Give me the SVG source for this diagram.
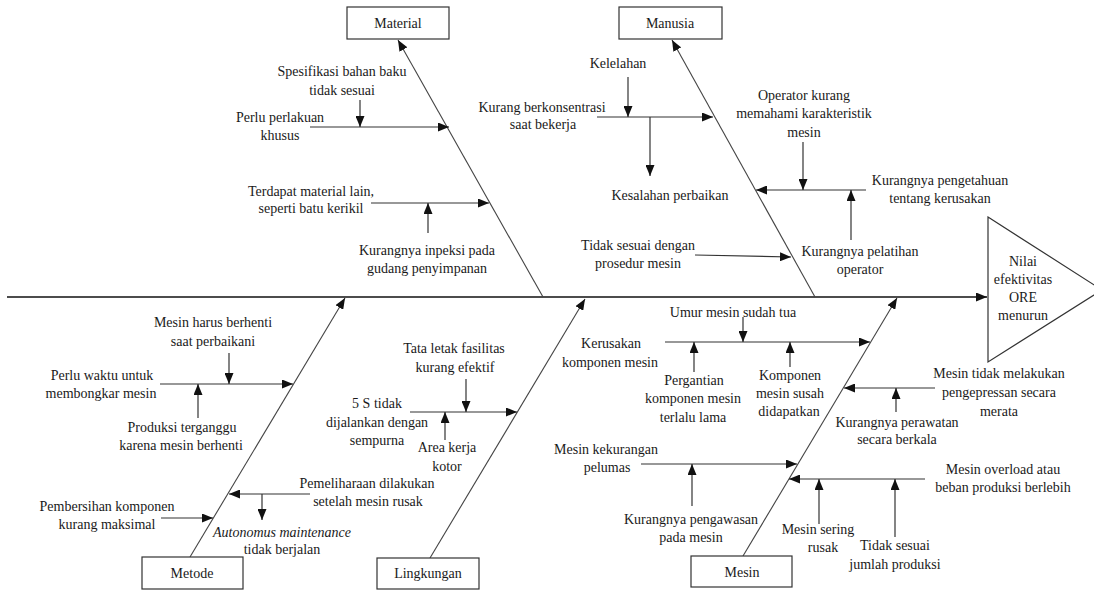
<svg xmlns="http://www.w3.org/2000/svg" width="1094" height="593" viewBox="0 0 1094 593">
<style>
text{font-family:"Liberation Serif","Times New Roman",serif;font-size:14px;fill:#1a1a1a;text-anchor:middle}
.it{font-style:italic}
.box{fill:#fff;stroke:#333;stroke-width:1.2}
.ln{stroke:#333;stroke-width:1.2;fill:none}
.bone{stroke:#444;stroke-width:1.1;fill:none}
.spine{stroke:#111;stroke-width:1.6;fill:none}
</style>
<defs>
<marker id="ah" markerUnits="userSpaceOnUse" markerWidth="12" markerHeight="9" refX="11" refY="4.5" orient="auto">
<path d="M0,0 L11,4.5 L0,9 z" fill="#111"/>
</marker>
</defs>
<rect width="1094" height="593" fill="#fff"/>

<g id="connectors">
<line class="spine" x1="7" y1="297" x2="987" y2="297" marker-end="url(#ah)"/>
<line class="bone" x1="543" y1="297" x2="398" y2="40" marker-end="url(#ah)"/>
<line class="bone" x1="815" y1="297" x2="672" y2="40" marker-end="url(#ah)"/>
<line class="bone" x1="190" y1="557" x2="345" y2="298" marker-end="url(#ah)"/>
<line class="bone" x1="430" y1="558" x2="585" y2="299" marker-end="url(#ah)"/>
<line class="bone" x1="743" y1="556" x2="897" y2="298" marker-end="url(#ah)"/>

<!-- Material -->
<line class="ln" x1="310" y1="127" x2="449" y2="127" marker-end="url(#ah)"/>
<line class="ln" x1="360" y1="100" x2="360" y2="127" marker-end="url(#ah)"/>
<line class="ln" x1="371" y1="203" x2="489" y2="203" marker-end="url(#ah)"/>
<line class="ln" x1="428" y1="233" x2="428" y2="203" marker-end="url(#ah)"/>

<!-- Manusia -->
<line class="ln" x1="597" y1="117" x2="713" y2="117" marker-end="url(#ah)"/>
<line class="ln" x1="628" y1="77" x2="628" y2="117" marker-end="url(#ah)"/>
<line class="ln" x1="650" y1="117" x2="650" y2="176" marker-end="url(#ah)"/>
<line class="ln" x1="695" y1="255" x2="791" y2="257" marker-end="url(#ah)"/>
<line class="ln" x1="866" y1="190" x2="756" y2="190" marker-end="url(#ah)"/>
<line class="ln" x1="803" y1="142" x2="803" y2="190" marker-end="url(#ah)"/>
<line class="ln" x1="851" y1="240" x2="851" y2="190" marker-end="url(#ah)"/>

<!-- Metode -->
<line class="ln" x1="160" y1="384" x2="293" y2="384" marker-end="url(#ah)"/>
<line class="ln" x1="229" y1="353" x2="229" y2="384" marker-end="url(#ah)"/>
<line class="ln" x1="198" y1="418" x2="198" y2="384" marker-end="url(#ah)"/>
<line class="ln" x1="310" y1="494" x2="229" y2="494" marker-end="url(#ah)"/>
<line class="ln" x1="262" y1="494" x2="262" y2="520" marker-end="url(#ah)"/>
<line class="ln" x1="161" y1="518" x2="213" y2="518" marker-end="url(#ah)"/>

<!-- Lingkungan -->
<line class="ln" x1="410" y1="412" x2="517" y2="412" marker-end="url(#ah)"/>
<line class="ln" x1="466" y1="379" x2="466" y2="412" marker-end="url(#ah)"/>
<line class="ln" x1="445" y1="440" x2="445" y2="412" marker-end="url(#ah)"/>

<!-- Mesin -->
<line class="ln" x1="665" y1="342" x2="870" y2="342" marker-end="url(#ah)"/>
<line class="ln" x1="743" y1="317" x2="743" y2="342" marker-end="url(#ah)"/>
<line class="ln" x1="694" y1="372" x2="694" y2="342" marker-end="url(#ah)"/>
<line class="ln" x1="790" y1="367" x2="790" y2="342" marker-end="url(#ah)"/>
<line class="ln" x1="935" y1="388" x2="844" y2="388" marker-end="url(#ah)"/>
<line class="ln" x1="896" y1="412" x2="896" y2="388" marker-end="url(#ah)"/>
<line class="ln" x1="641" y1="464" x2="797" y2="464" marker-end="url(#ah)"/>
<line class="ln" x1="692" y1="506" x2="692" y2="464" marker-end="url(#ah)"/>
<line class="ln" x1="925" y1="479" x2="789" y2="479" marker-end="url(#ah)"/>
<line class="ln" x1="819" y1="524" x2="819" y2="479" marker-end="url(#ah)"/>
<line class="ln" x1="895" y1="537" x2="895" y2="479" marker-end="url(#ah)"/>
</g>

<g id="effect">
<polygon points="988,217 1102,290 988,362" fill="#fff" stroke="#333" stroke-width="1.2"/>
<text x="1023" y="266">Nilai</text>
<text x="1023" y="284">efektivitas</text>
<text x="1023" y="302">ORE</text>
<text x="1023" y="320">menurun</text>
</g>

<g id="material">
<rect class="box" x="347" y="7" width="102" height="32"/>
<text x="398" y="28">Material</text>
<text x="342" y="76">Spesifikasi bahan baku</text>
<text x="342" y="95">tidak sesuai</text>
<text x="280" y="122">Perlu perlakuan</text>
<text x="280" y="140">khusus</text>
<text x="311" y="196">Terdapat material lain,</text>
<text x="311" y="213">seperti batu kerikil</text>
<text x="427" y="255">Kurangnya inpeksi pada</text>
<text x="427" y="273">gudang penyimpanan</text>
</g>

<g id="manusia">
<rect class="box" x="619" y="7" width="103" height="32"/>
<text x="670" y="28">Manusia</text>
<text x="618" y="68">Kelelahan</text>
<text x="542" y="112">Kurang berkonsentrasi</text>
<text x="543" y="129">saat bekerja</text>
<text x="670" y="200">Kesalahan perbaikan</text>
<text x="638" y="250">Tidak sesuai dengan</text>
<text x="638" y="268">prosedur mesin</text>
<text x="804" y="100">Operator kurang</text>
<text x="804" y="118">memahami karakteristik</text>
<text x="804" y="137">mesin</text>
<text x="940" y="185">Kurangnya pengetahuan</text>
<text x="940" y="203">tentang kerusakan</text>
<text x="860" y="256">Kurangnya pelatihan</text>
<text x="860" y="274">operator</text>
</g>

<g id="metode">
<rect class="box" x="142" y="557" width="101" height="32"/>
<text x="192" y="578">Metode</text>
<text x="213" y="327">Mesin harus berhenti</text>
<text x="213" y="346">saat perbaikani</text>
<text x="102" y="380">Perlu waktu untuk</text>
<text x="101" y="398">membongkar mesin</text>
<text x="182" y="432">Produksi terganggu</text>
<text x="181" y="450">karena mesin berhenti</text>
<text x="367" y="488">Pemeliharaan dilakukan</text>
<text x="368" y="506">setelah mesin rusak</text>
<text x="107" y="511">Pembersihan komponen</text>
<text x="107" y="529">kurang maksimal</text>
<text class="it" x="282" y="537">Autonomus maintenance</text>
<text x="282" y="554">tidak berjalan</text>
</g>

<g id="lingkungan">
<rect class="box" x="377" y="558" width="102" height="31"/>
<text x="428" y="578">Lingkungan</text>
<text x="454" y="353">Tata letak fasilitas</text>
<text x="455" y="372">kurang efektif</text>
<text x="377" y="408">5 S tidak</text>
<text x="377" y="427">dijalankan dengan</text>
<text x="377" y="445">sempurna</text>
<text x="447" y="452">Area kerja</text>
<text x="447" y="471">kotor</text>
</g>

<g id="mesin">
<rect class="box" x="691" y="556" width="101" height="31"/>
<text x="742" y="577">Mesin</text>
<text x="733" y="317">Umur mesin sudah tua</text>
<text x="611" y="348">Kerusakan</text>
<text x="610" y="367">komponen mesin</text>
<text x="694" y="385">Pergantian</text>
<text x="693" y="403">komponen mesin</text>
<text x="693" y="422">terlalu lama</text>
<text x="790" y="380">Komponen</text>
<text x="790" y="398">mesin susah</text>
<text x="789" y="416">didapatkan</text>
<text x="999" y="378">Mesin tidak melakukan</text>
<text x="999" y="397">pengepressan secara</text>
<text x="999" y="416">merata</text>
<text x="897" y="427">Kurangnya perawatan</text>
<text x="897" y="444">secara berkala</text>
<text x="606" y="454">Mesin kekurangan</text>
<text x="607" y="472">pelumas</text>
<text x="691" y="524">Kurangnya pengawasan</text>
<text x="691" y="542">pada mesin</text>
<text x="1003" y="474">Mesin overload atau</text>
<text x="1003" y="492">beban produksi berlebih</text>
<text x="818" y="534">Mesin sering</text>
<text x="823" y="552">rusak</text>
<text x="895" y="550">Tidak sesuai</text>
<text x="895" y="569">jumlah produksi</text>
</g>
</svg>
